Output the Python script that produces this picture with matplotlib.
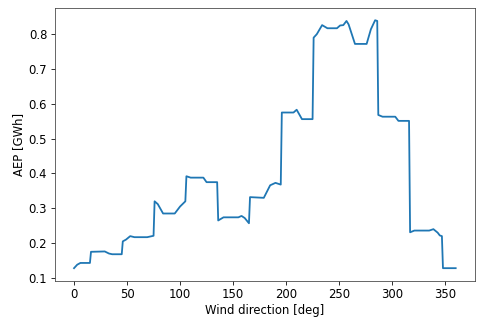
import matplotlib
matplotlib.use("Agg")
import matplotlib.pyplot as plt

# AEP per wind direction sector
wind_dir = [0, 3, 6, 15, 16, 29, 33, 36, 45, 46, 49, 53, 57, 69, 75, 76, 79, 84,
            95, 100, 105, 106, 110, 122, 125, 135, 136, 141, 155, 158, 161, 165,
            166, 179, 185, 190, 195, 196, 207, 210, 215, 225, 226, 229, 234, 239,
            248, 251, 254, 257, 259, 265, 276, 280, 284, 286, 287, 291, 303, 306,
            316, 317, 321, 335, 339, 343, 345, 347, 348, 360]
aep = [0.128, 0.138, 0.143, 0.143, 0.175, 0.176, 0.170, 0.168, 0.168, 0.205,
       0.210, 0.220, 0.217, 0.217, 0.221, 0.320, 0.312, 0.285, 0.285, 0.305,
       0.320, 0.392, 0.388, 0.388, 0.375, 0.375, 0.265, 0.274, 0.274, 0.278,
       0.272, 0.257, 0.332, 0.330, 0.366, 0.373, 0.368, 0.575, 0.575, 0.583,
       0.556, 0.556, 0.790, 0.800, 0.826, 0.817, 0.817, 0.825, 0.826, 0.838,
       0.828, 0.772, 0.772, 0.814, 0.840, 0.838, 0.568, 0.563, 0.563, 0.551,
       0.551, 0.231, 0.236, 0.236, 0.240, 0.230, 0.222, 0.220, 0.128, 0.128]

plt.rcParams["font.size"] = 11.6
plt.rcParams["xtick.major.size"] = 4.2
plt.rcParams["ytick.major.size"] = 4.2
plt.rcParams["axes.edgecolor"] = "#444444"

fig = plt.figure(figsize=(482 / 72, 327 / 72), dpi=72)
ax = fig.add_subplot(111)
fig.subplots_adjust(left=0.114, right=0.985, top=0.976, bottom=0.142)

ax.plot(wind_dir, aep, linewidth=1.8)
ax.set_xlabel("Wind direction [deg]", labelpad=3)
ax.set_ylabel("AEP [GWh]")

fig.savefig("out.png", dpi=72)
